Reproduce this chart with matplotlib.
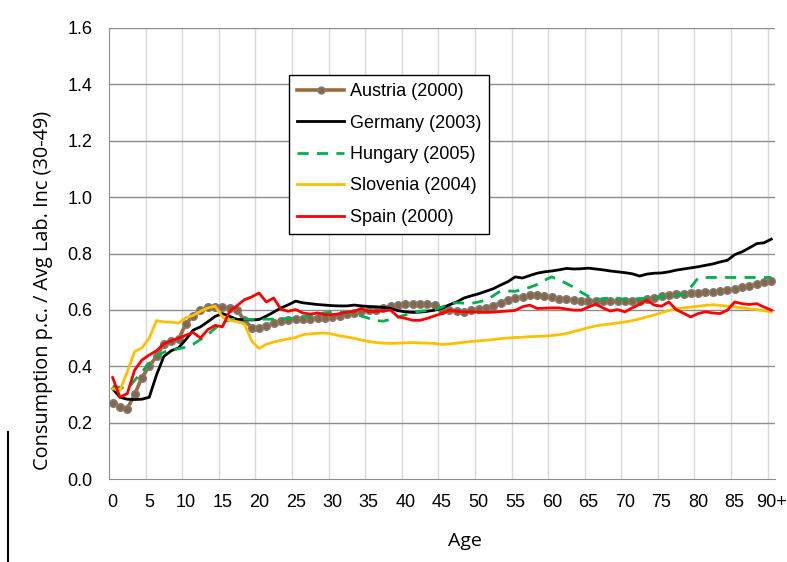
import matplotlib
matplotlib.use("Agg")
import matplotlib.pyplot as plt
from matplotlib.lines import Line2D

plt.rcParams['font.family'] = ['Liberation Sans', 'DejaVu Sans']

ages = list(range(91))
xtick_pos = list(range(0, 91, 5))
xtick_labels = [str(a) for a in range(0, 90, 5)] + ["90+"]
ytick_vals = [0.0, 0.2, 0.4, 0.6, 0.8, 1.0, 1.2, 1.4, 1.6]

austria = [0.27, 0.255, 0.25, 0.30, 0.36, 0.40, 0.435, 0.48, 0.49, 0.495,
           0.55, 0.58, 0.60, 0.61, 0.61, 0.61, 0.607, 0.60, 0.563, 0.537,
           0.534, 0.543, 0.554, 0.561, 0.563, 0.566, 0.567, 0.569, 0.57, 0.571,
           0.575, 0.58, 0.585, 0.59, 0.595, 0.598, 0.60, 0.605, 0.613, 0.617,
           0.62, 0.62, 0.62, 0.62, 0.618, 0.601, 0.599, 0.596, 0.594, 0.60,
           0.602, 0.608, 0.615, 0.625, 0.634, 0.643, 0.647, 0.651, 0.652, 0.65,
           0.644, 0.64, 0.637, 0.634, 0.632, 0.631, 0.631, 0.63, 0.63, 0.63,
           0.63, 0.631, 0.633, 0.638, 0.643, 0.648, 0.652, 0.656, 0.658, 0.66,
           0.661, 0.663, 0.665, 0.668, 0.671, 0.675, 0.68, 0.686, 0.692, 0.698,
           0.704]

germany = [0.32, 0.29, 0.283, 0.282, 0.283, 0.29, 0.37, 0.435, 0.455, 0.465,
           0.495, 0.528, 0.54, 0.558, 0.577, 0.587, 0.577, 0.566, 0.566, 0.564,
           0.566, 0.578, 0.592, 0.607, 0.618, 0.631, 0.625, 0.622, 0.619, 0.617,
           0.615, 0.614, 0.614, 0.617, 0.614, 0.612, 0.611, 0.609, 0.605, 0.597,
           0.593, 0.591, 0.592, 0.595, 0.599, 0.606, 0.618, 0.628, 0.642, 0.65,
           0.657, 0.666, 0.675, 0.688, 0.70, 0.717, 0.713, 0.722, 0.73, 0.735,
           0.738, 0.742, 0.747, 0.745, 0.746, 0.748, 0.745, 0.742, 0.738, 0.735,
           0.732, 0.728, 0.72, 0.727, 0.73, 0.731, 0.735, 0.741, 0.745, 0.749,
           0.753, 0.758, 0.763, 0.77, 0.776, 0.796, 0.806, 0.82, 0.835, 0.838,
           0.851]

hungary = [0.33, 0.325, 0.32, 0.35, 0.38, 0.41, 0.435, 0.45, 0.456, 0.462,
           0.468, 0.478, 0.495, 0.512, 0.535, 0.556, 0.565, 0.568, 0.567, 0.566,
           0.566, 0.567, 0.567, 0.568, 0.569, 0.571, 0.575, 0.58, 0.585, 0.59,
           0.592, 0.592, 0.59, 0.585, 0.578, 0.57, 0.562, 0.56, 0.567, 0.575,
           0.582, 0.59, 0.595, 0.598, 0.601, 0.61, 0.622, 0.625, 0.624, 0.623,
           0.628, 0.635, 0.65, 0.667, 0.667, 0.666, 0.672, 0.68, 0.69, 0.705,
           0.717, 0.706, 0.694, 0.68, 0.663, 0.648, 0.637, 0.638, 0.644, 0.641,
           0.637, 0.638, 0.64, 0.64, 0.643, 0.648, 0.65, 0.652, 0.655, 0.68,
           0.713, 0.715, 0.715, 0.715, 0.715, 0.715, 0.715, 0.715, 0.715, 0.715,
           0.715]

slovenia = [0.32, 0.315, 0.38, 0.452, 0.465, 0.50, 0.562, 0.557, 0.557, 0.553,
            0.572, 0.58, 0.595, 0.607, 0.613, 0.575, 0.563, 0.558, 0.55, 0.49,
            0.463, 0.478, 0.486, 0.492, 0.497, 0.502, 0.512, 0.515, 0.517, 0.518,
            0.514, 0.508, 0.504, 0.499, 0.493, 0.488, 0.484, 0.482, 0.481, 0.482,
            0.483, 0.484, 0.483, 0.482, 0.481, 0.477, 0.479, 0.482, 0.485, 0.488,
            0.49, 0.492, 0.495, 0.498, 0.50, 0.502, 0.503, 0.505, 0.506, 0.507,
            0.509, 0.512, 0.516, 0.523, 0.53, 0.537, 0.543, 0.547, 0.55, 0.554,
            0.557, 0.562, 0.568, 0.575, 0.582, 0.59, 0.598, 0.604, 0.607, 0.61,
            0.613, 0.616, 0.618, 0.616, 0.613, 0.61, 0.607, 0.604, 0.601, 0.597,
            0.593]

spain = [0.36, 0.29, 0.303, 0.386, 0.422, 0.44, 0.455, 0.48, 0.49, 0.50,
         0.51, 0.52, 0.50, 0.53, 0.545, 0.54, 0.595, 0.615, 0.636, 0.646,
         0.66, 0.628, 0.642, 0.602, 0.595, 0.601, 0.589, 0.585, 0.589, 0.583,
         0.583, 0.586, 0.592, 0.595, 0.605, 0.593, 0.595, 0.597, 0.599, 0.575,
         0.57, 0.563, 0.563, 0.57, 0.579, 0.587, 0.599, 0.595, 0.593, 0.593,
         0.592, 0.591, 0.592, 0.594, 0.596, 0.598, 0.611, 0.617, 0.605, 0.606,
         0.607, 0.607, 0.603, 0.599, 0.599, 0.61, 0.62, 0.607, 0.596, 0.601,
         0.593, 0.607, 0.62, 0.634, 0.617, 0.613, 0.628, 0.601, 0.588, 0.575,
         0.587, 0.593, 0.589, 0.587, 0.599, 0.628, 0.622, 0.619, 0.622, 0.61,
         0.599]

W, H = 787, 562
fig = plt.figure(figsize=(W / 100, H / 100), dpi=100)
L, R, T, B = 109, 775, 28, 479
ax = fig.add_axes([L / W, 1 - B / H, (R - L) / W, (B - T) / H])

ax.set_xlim(-0.5, 90.5)
ax.set_ylim(0, 1.6)

# gridlines
for y in ytick_vals[1:]:
    ax.axhline(y, color='#8c8c8c', lw=1.0, zorder=1)
for xb in range(5, 91, 5):
    ax.axvline(xb - 0.5, color='#d9d9d9', lw=1.0, zorder=0.5)

ax.plot(ages, austria, color='#9C6B3C', lw=2.6, marker='o', markersize=5.5,
        markerfacecolor='#8A6642', markeredgecolor='#7f7f7f', markeredgewidth=1.0,
        label='Austria (2000)', zorder=3)
ax.plot(ages, germany, color='black', lw=2.0, label='Germany (2003)', zorder=4)
ax.plot(ages, hungary, color='#00B050', lw=2.0, ls=(0, (4, 3)),
        label='Hungary (2005)', zorder=5)
ax.plot(ages, slovenia, color='#FFC000', lw=2.0, label='Slovenia (2004)', zorder=6)
ax.plot(ages, spain, color='#FF0000', lw=2.0, label='Spain (2000)', zorder=7)

for s in ['top', 'right']:
    ax.spines[s].set_visible(False)
ax.spines['left'].set_color('#8c8c8c')
ax.spines['bottom'].set_color('#8c8c8c')

ax.set_xticks(xtick_pos)
ax.set_xticklabels(xtick_labels)
ax.set_yticks(ytick_vals)
ax.set_yticklabels([f"{v:.1f}" for v in ytick_vals])
ax.tick_params(axis='y', length=0, pad=12, labelsize=13)
ax.tick_params(axis='x', length=0, pad=11, labelsize=13)

ax.set_ylabel('Consumption p.c. / Avg Lab. Inc (30-49)', fontsize=14.3,
              family=['Open Sans', 'DejaVu Sans'])
ax.yaxis.set_label_coords((43 - L) / (R - L), (B - 290) / (B - T))
ax.set_xlabel('Age', fontsize=14, family=['Open Sans', 'DejaVu Sans'])
ax.xaxis.set_label_coords((465 - L) / (R - L), -(541 - B) / (B - T))
ax.xaxis.label.set_va('center')
ax.yaxis.label.set_va('center')

leg = ax.legend(loc='upper left', bbox_to_anchor=((289.3 - L) / (R - L), (B - 75) / (B - T)),
                borderaxespad=0, fontsize=13, frameon=True, fancybox=False,
                edgecolor='black', framealpha=1, handlelength=2.6, handletextpad=0.3,
                labelspacing=0.8, borderpad=0.45)
leg.get_frame().set_linewidth(1.0)
for h in leg.legend_handles:
    if h.get_marker() == 'o':
        h.set_markersize(5)
leg.set_zorder(10)

fig.add_artist(Line2D([8 / W, 8 / W], [0, 1 - 432 / H], color='black', lw=1.5,
                      transform=fig.transFigure))

fig.savefig('out.png', dpi=100)
